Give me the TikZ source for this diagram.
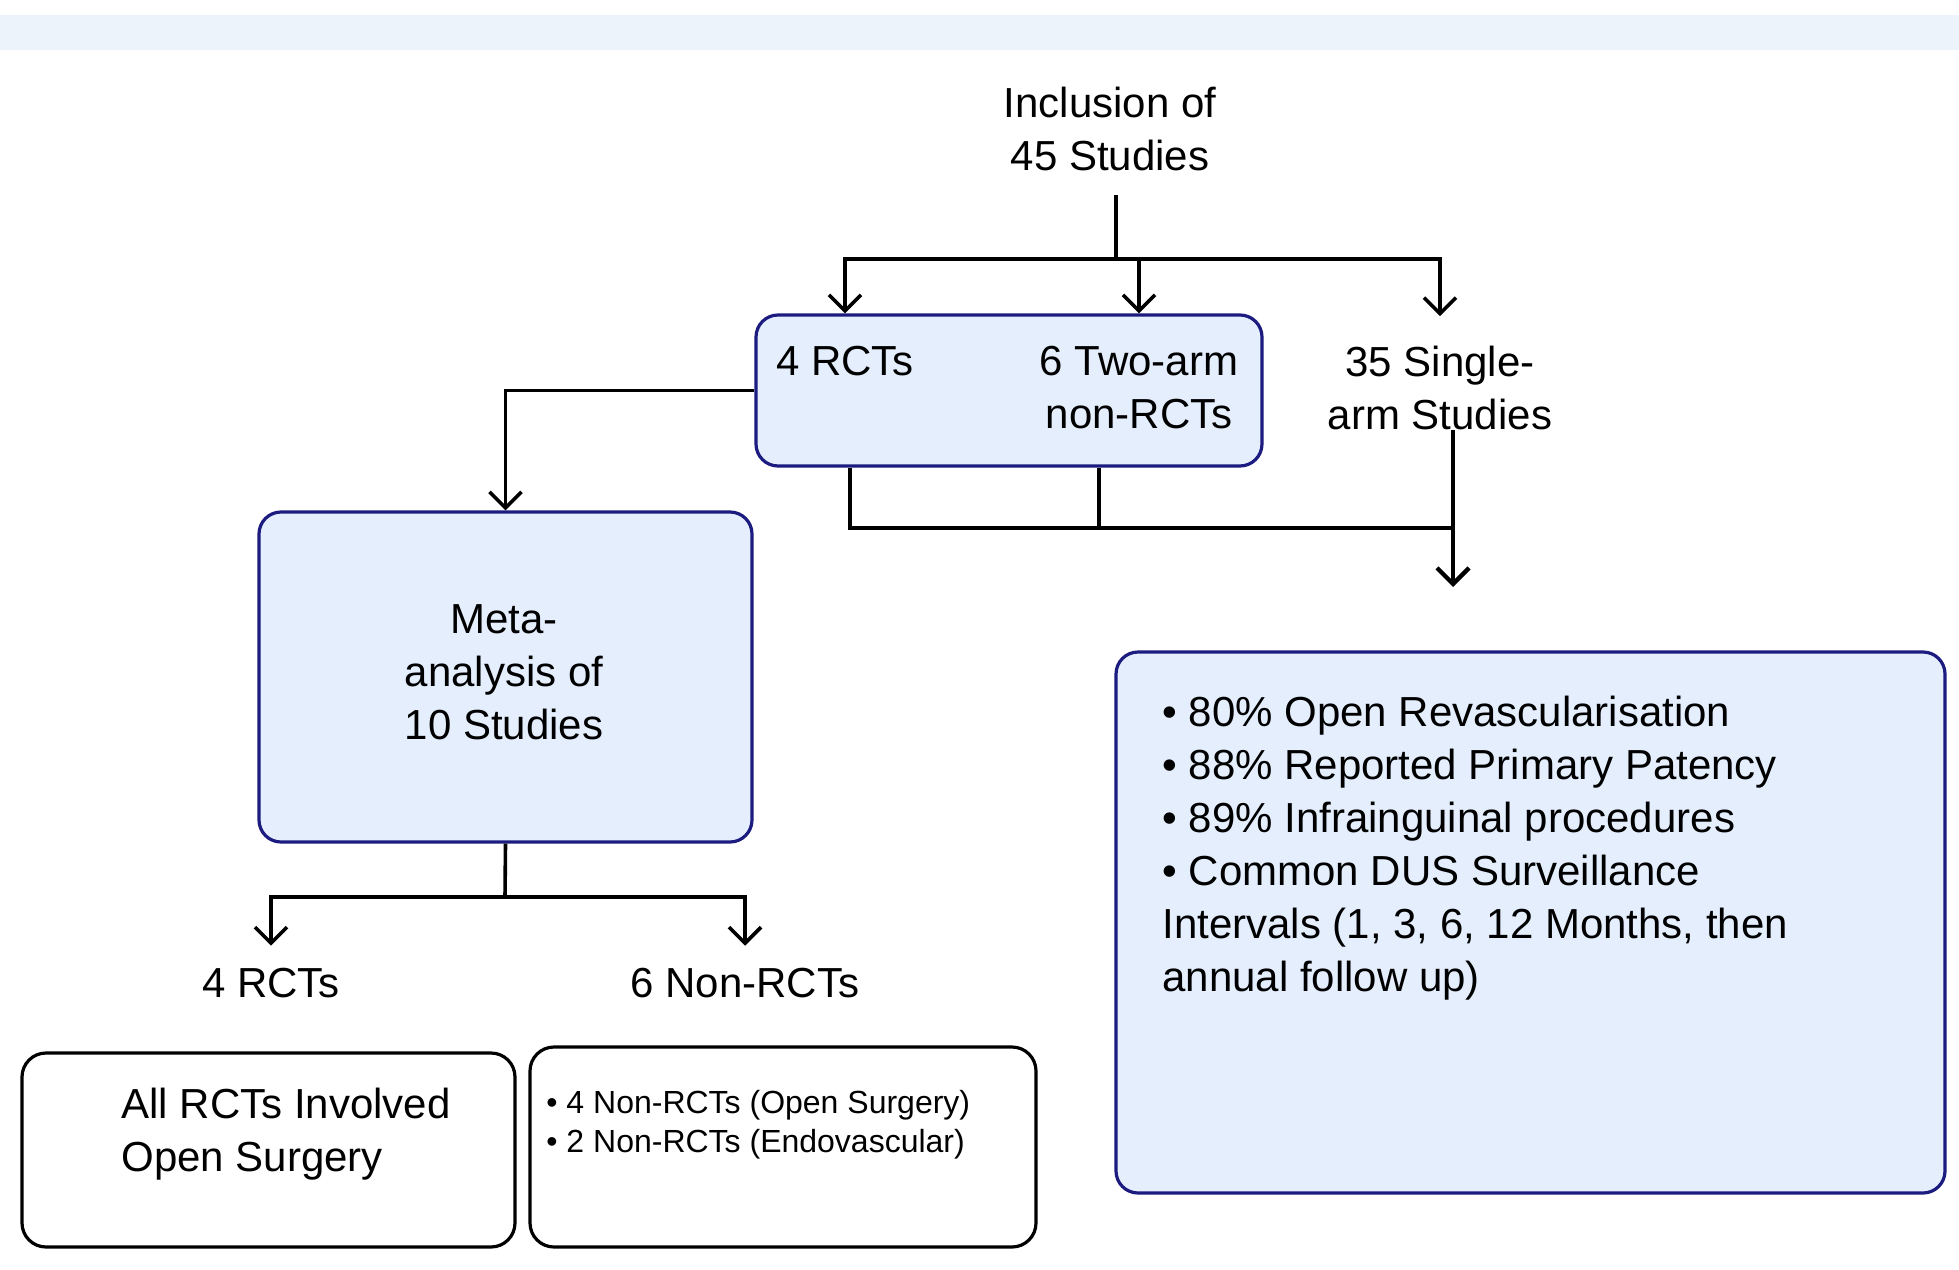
\documentclass[tikz,border=0pt]{standalone}
\usepackage{fontspec}
\setmainfont{Liberation Sans}
\usetikzlibrary{arrows.meta}

\definecolor{boxblue}{RGB}{28,28,128}
\definecolor{boxfill}{RGB}{228,238,253}
\definecolor{bandblue}{RGB}{237,243,251}

\begin{document}
\begin{tikzpicture}[x=0.5pt, y=-0.5pt,
  line/.style={line width=1.8pt, black},
  >={Straight Barb[length=8pt, width=16pt]},
  bluebox/.style={draw=boxblue, fill=boxfill, line width=1.6pt, rounded corners=11pt},
  whitebox/.style={draw=black, fill=white, line width=1.6pt, rounded corners=12pt},
  txt/.style={font=\fontsize{21}{26.5}\selectfont, inner sep=0pt, align=center},
  smalltxt/.style={font=\fontsize{16}{19.5}\selectfont, inner sep=0pt, align=left}]

\useasboundingbox (0,0) rectangle (1959,1269);
\fill[bandblue] (0,15) rectangle (1959,50);

% top level
\node[txt] (incl) at (1110,129) {Inclusion of\\45 Studies};
\coordinate (fork) at (1116,259);

\node[bluebox, minimum width=253pt, minimum height=75.5pt] (pair) at (1009,390.5) {};
\node[txt] (rct) at (845,361) {4 RCTs};
\node[txt] (twoarm) at (1139,387.5) {6 Two-arm\\non-RCTs};
\node[txt] (single) at (1440,387.5) {35 Single-\\arm Studies};

\draw[line, shorten <=12pt] (fork |- incl.south) -- (fork);
\draw[line, ->] (fork) -| (pair.north -| rct);
\draw[line, ->] (fork) -| (pair.north -| twoarm);
\draw[line, ->] (fork) -| ([yshift=14.5pt]single.north);

% meta-analysis
\node[bluebox, minimum width=246.5pt, minimum height=165pt] (meta) at (505.5,677) {};
\node[txt] (metatxt) at (504,672) {Meta-\\analysis of\\10 Studies};
\draw[line, ->] (pair.west) -| (meta.north);

% collecting line
\coordinate (j1) at (850,528);
\coordinate (j2) at (1099,528);
\coordinate (merge) at (1453,528);
\coordinate (tip) at (1453,587);
\draw[line] (pair.south -| j1) -- (j1) -- (merge);
\draw[line] (pair.south -| j2) -- (j2);
\draw[line, line width=2.2pt, ->] (single.south -| merge) -- (tip);

\node[bluebox, minimum width=414.5pt, minimum height=270.5pt] (results) at (1530.5,922.5) {};
\node[txt, align=left, anchor=west] (restxt) at (1162,848)
  {• 80\% Open Revascularisation\\• 88\% Reported Primary Patency\\• 89\% Infrainguinal procedures\\• Common DUS Surveillance\\Intervals (1, 3, 6, 12 Months, then\\annual follow up)};

% split of the meta-analysis
\coordinate (split) at (505,897);
\node[txt] (rctsub) at (271,983) {4 RCTs};
\node[txt] (nonrct) at (745,983) {6 Non-RCTs};
\draw[line] (meta.south) -- (split);
\draw[line, ->] (split) -| ([yshift=11pt]rctsub.north);
\draw[line, ->] (split) -| ([yshift=11pt]nonrct.north);

\node[whitebox, minimum width=246.5pt, minimum height=97pt] (allrct) at (268.5,1150) {};
\node[txt, align=left, anchor=west] (allrcttxt) at (121,1134) {All RCTs Involved\\Open Surgery};

\node[whitebox, minimum width=253pt, minimum height=100pt] (nonbox) at (783,1147) {};
\node[smalltxt, anchor=west] (nontxt) at (546,1125) {• 4 Non-RCTs (Open Surgery)\\• 2 Non-RCTs (Endovascular)};

\end{tikzpicture}
\end{document}
